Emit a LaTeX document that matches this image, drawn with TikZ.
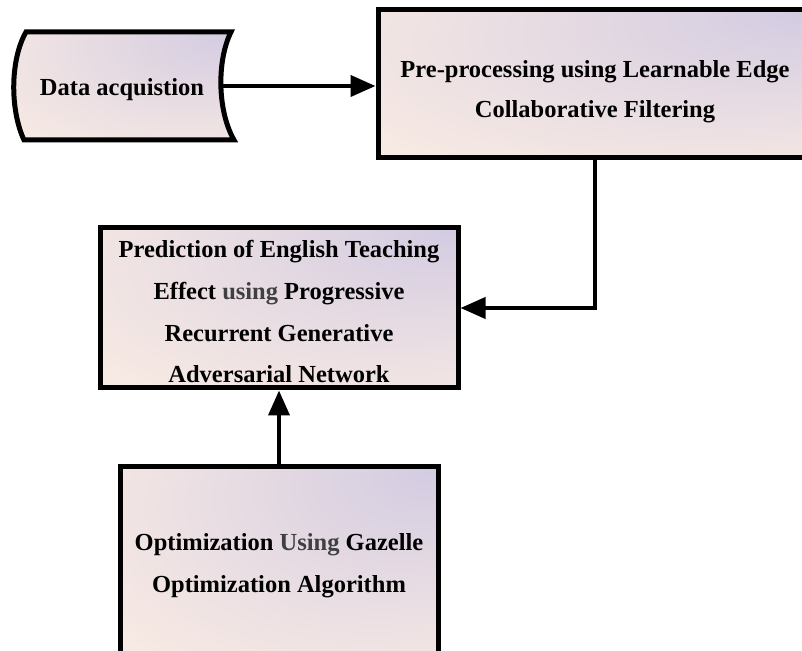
\documentclass[tikz,border=0pt]{standalone}
\usepackage{fontspec}
\setmainfont{Liberation Serif}
\usetikzlibrary{arrows.meta}
\definecolor{peach}{HTML}{FBEDE3}
\definecolor{lav}{HTML}{D3CBE2}
\colorlet{midmix}{peach!45!lav}
\definecolor{tgray}{HTML}{404040}
\pgfdeclareradialshading{cornershade}{\pgfpoint{25bp}{25bp}}{%
  color(0bp)=(lav); color(22bp)=(midmix); color(52bp)=(peach); color(80bp)=(peach)}
\newcommand{\toppad}[1]{\rule{0pt}{#1pt}}
\begin{document}
\begin{tikzpicture}[x=1pt,y=1pt,
  boxfill/.style={shade, shading=cornershade},
  stagefont/.style={font=\fontsize{24.5}{41.7}\selectfont\bfseries},
  stagebox/.style={draw=black, line width=5pt, boxfill, align=center, inner sep=0pt, stagefont},
  conn/.style={line width=4pt, -{Triangle[length=25pt,width=21pt]}}]
\useasboundingbox (0,0) rectangle (802,650);
\clip (0,0) rectangle (802,650);
% data acquisition shape
\path[draw=black, line width=5pt, boxfill]
  (24,510) .. controls (10,540) and (10,590) .. (26,618) -- (231,618)
  .. controls (217,590) and (217,540) .. (234,510) -- cycle;
\node[stagefont, minimum width=200pt, minimum height=108pt, inner sep=0pt] (data) at (122,564) {\toppad{25}Data acquistion};
\node[stagebox, minimum width=434pt, minimum height=148pt, font=\fontsize{24.5}{40}\selectfont\bfseries] (pre) at (595,566)
  {\toppad{33}Pre-processing using Learnable Edge\\Collaborative Filtering};
\node[stagebox, minimum width=358pt, minimum height=160pt] (pred) at (279,342)
  {\toppad{25}Prediction of English Teaching\\Effect \textcolor{tgray}{using} Progressive\\Recurrent Generative\\Adversarial Network};
\node[stagebox, minimum width=318pt, minimum height=190pt] (opt) at (279,88)
  {\toppad{25}Optimization \textcolor{tgray}{Using} Gazelle\\Optimization Algorithm};
\draw[conn] (data.east) -- (data.east -| pre.west);
\draw[conn] (pre.south) |- (pred.east);
\draw[conn] (opt.north) -- (pred.south);
\end{tikzpicture}
\end{document}
